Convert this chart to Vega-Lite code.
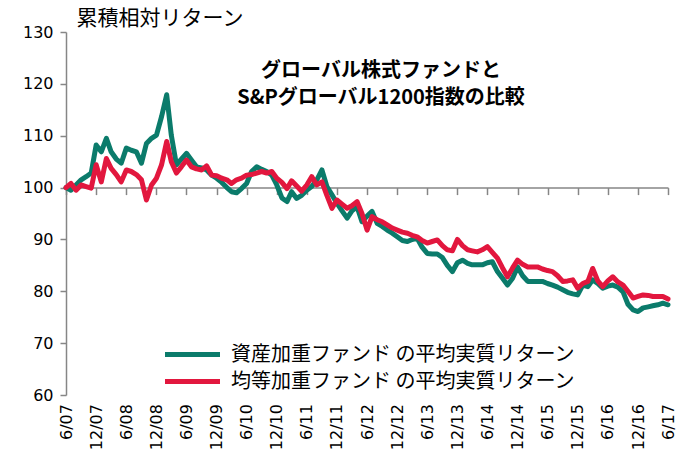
{
"$schema": "https://vega.github.io/schema/vega-lite/v6.json",
"width": 602, "height": 363,
"autosize": {"type": "none"},
"padding": {"left": 66, "top": 32, "right": 20, "bottom": 65},
"background": "white",
"config": {"view": {"stroke": null}, "font": "DejaVu Sans"},
"title": {"text": ["グローバル株式ファンドと", "S&Pグローバル1200指数の比較"], "font": "Noto Sans CJK JP", "fontSize": 20, "fontWeight": "bold", "color": "black", "anchor": "middle", "frame": "group", "dx": 14, "dy": 105, "lineHeight": 27},
"data": {"values": [
{"d":"2007-06-01","a":100.0,"b":100.0},
{"d":"2007-07-01","a":99.5,"b":100.8},
{"d":"2007-08-01","a":100.5,"b":99.5},
{"d":"2007-09-01","a":101.5,"b":100.5},
{"d":"2007-10-01","a":102.1,"b":100.2},
{"d":"2007-11-01","a":102.8,"b":99.9},
{"d":"2007-12-01","a":108.2,"b":104.4},
{"d":"2008-01-01","a":106.9,"b":101.1},
{"d":"2008-02-01","a":109.5,"b":105.6},
{"d":"2008-03-01","a":106.9,"b":103.7},
{"d":"2008-04-01","a":105.5,"b":102.5},
{"d":"2008-05-01","a":104.7,"b":101.1},
{"d":"2008-06-01","a":107.6,"b":103.4},
{"d":"2008-07-01","a":107.2,"b":103.1},
{"d":"2008-08-01","a":106.9,"b":102.5},
{"d":"2008-09-01","a":104.7,"b":101.5},
{"d":"2008-10-01","a":108.5,"b":97.6},
{"d":"2008-11-01","a":109.5,"b":100.5},
{"d":"2008-12-01","a":110.1,"b":101.8},
{"d":"2009-01-01","a":113.7,"b":104.4},
{"d":"2009-02-01","a":117.9,"b":108.9},
{"d":"2009-03-01","a":110.1,"b":105.0},
{"d":"2009-04-01","a":104.4,"b":102.8},
{"d":"2009-05-01","a":105.5,"b":104.0},
{"d":"2009-06-01","a":106.6,"b":105.3},
{"d":"2009-07-01","a":105.3,"b":104.0},
{"d":"2009-08-01","a":104.0,"b":103.6},
{"d":"2009-09-01","a":103.8,"b":103.4},
{"d":"2009-10-01","a":103.4,"b":104.2},
{"d":"2009-11-01","a":102.4,"b":102.4},
{"d":"2009-12-01","a":101.8,"b":102.3},
{"d":"2010-01-01","a":101.0,"b":101.8},
{"d":"2010-02-01","a":100.0,"b":101.5},
{"d":"2010-03-01","a":99.2,"b":100.8},
{"d":"2010-04-01","a":99.0,"b":101.5},
{"d":"2010-05-01","a":99.8,"b":101.8},
{"d":"2010-06-01","a":100.8,"b":102.4},
{"d":"2010-07-01","a":103.1,"b":102.5},
{"d":"2010-08-01","a":104.0,"b":102.8},
{"d":"2010-09-01","a":103.5,"b":103.1},
{"d":"2010-10-01","a":103.1,"b":102.8},
{"d":"2010-11-01","a":102.4,"b":103.1},
{"d":"2010-12-01","a":100.5,"b":101.8},
{"d":"2011-01-01","a":98.0,"b":101.0},
{"d":"2011-02-01","a":97.3,"b":99.8},
{"d":"2011-03-01","a":99.2,"b":101.3},
{"d":"2011-04-01","a":97.9,"b":100.3},
{"d":"2011-05-01","a":98.5,"b":99.3},
{"d":"2011-06-01","a":99.5,"b":100.5},
{"d":"2011-07-01","a":100.2,"b":102.1},
{"d":"2011-08-01","a":101.5,"b":100.5},
{"d":"2011-09-01","a":103.4,"b":101.1},
{"d":"2011-10-01","a":100.2,"b":98.5},
{"d":"2011-11-01","a":98.6,"b":96.0},
{"d":"2011-12-01","a":97.0,"b":97.6},
{"d":"2012-01-01","a":95.5,"b":96.8},
{"d":"2012-02-01","a":94.1,"b":96.0},
{"d":"2012-03-01","a":95.5,"b":96.5},
{"d":"2012-04-01","a":96.3,"b":97.3},
{"d":"2012-05-01","a":93.4,"b":95.0},
{"d":"2012-06-01","a":94.5,"b":91.8},
{"d":"2012-07-01","a":95.4,"b":94.4},
{"d":"2012-08-01","a":93.1,"b":93.8},
{"d":"2012-09-01","a":92.5,"b":93.4},
{"d":"2012-10-01","a":91.8,"b":92.8},
{"d":"2012-11-01","a":91.2,"b":92.2},
{"d":"2012-12-01","a":90.5,"b":91.8},
{"d":"2013-01-01","a":89.8,"b":91.4},
{"d":"2013-02-01","a":89.6,"b":91.2},
{"d":"2013-03-01","a":90.0,"b":90.8},
{"d":"2013-04-01","a":90.2,"b":90.5},
{"d":"2013-05-01","a":88.5,"b":89.8},
{"d":"2013-06-01","a":87.3,"b":89.3},
{"d":"2013-07-01","a":87.2,"b":89.6},
{"d":"2013-08-01","a":87.2,"b":89.9},
{"d":"2013-09-01","a":86.5,"b":88.8},
{"d":"2013-10-01","a":85.0,"b":88.0},
{"d":"2013-11-01","a":83.8,"b":87.8},
{"d":"2013-12-01","a":85.5,"b":90.0},
{"d":"2014-01-01","a":86.0,"b":88.8},
{"d":"2014-02-01","a":85.4,"b":88.0},
{"d":"2014-03-01","a":85.1,"b":87.8},
{"d":"2014-04-01","a":85.1,"b":87.6},
{"d":"2014-05-01","a":85.1,"b":88.0},
{"d":"2014-06-01","a":85.5,"b":88.6},
{"d":"2014-07-01","a":85.7,"b":87.5},
{"d":"2014-08-01","a":83.8,"b":86.4},
{"d":"2014-09-01","a":82.5,"b":84.5},
{"d":"2014-10-01","a":81.2,"b":82.8},
{"d":"2014-11-01","a":82.5,"b":84.5},
{"d":"2014-12-01","a":84.7,"b":86.0},
{"d":"2015-01-01","a":83.0,"b":85.2},
{"d":"2015-02-01","a":81.9,"b":84.7},
{"d":"2015-03-01","a":81.9,"b":84.7},
{"d":"2015-04-01","a":81.9,"b":84.7},
{"d":"2015-05-01","a":81.9,"b":84.3},
{"d":"2015-06-01","a":81.5,"b":84.0},
{"d":"2015-07-01","a":81.2,"b":83.8},
{"d":"2015-08-01","a":80.8,"b":83.0},
{"d":"2015-09-01","a":80.3,"b":81.9},
{"d":"2015-10-01","a":79.8,"b":82.0},
{"d":"2015-11-01","a":79.5,"b":82.2},
{"d":"2015-12-01","a":79.3,"b":80.6},
{"d":"2016-01-01","a":81.2,"b":81.5},
{"d":"2016-02-01","a":80.9,"b":81.9},
{"d":"2016-03-01","a":82.2,"b":84.4},
{"d":"2016-04-01","a":81.5,"b":82.0},
{"d":"2016-05-01","a":80.6,"b":80.9},
{"d":"2016-06-01","a":81.0,"b":82.0},
{"d":"2016-07-01","a":81.2,"b":82.8},
{"d":"2016-08-01","a":80.8,"b":81.8},
{"d":"2016-09-01","a":79.9,"b":81.2},
{"d":"2016-10-01","a":77.5,"b":80.0},
{"d":"2016-11-01","a":76.4,"b":78.7},
{"d":"2016-12-01","a":76.1,"b":79.0},
{"d":"2017-01-01","a":76.8,"b":79.3},
{"d":"2017-02-01","a":77.0,"b":79.2},
{"d":"2017-03-01","a":77.2,"b":79.0},
{"d":"2017-04-01","a":77.4,"b":79.0},
{"d":"2017-05-01","a":77.7,"b":79.0},
{"d":"2017-06-01","a":77.4,"b":78.5}
]},
"transform": [{"fold": ["a", "b"], "as": ["s", "v"]}],
"mark": {"type": "line", "strokeWidth": 5, "strokeJoin": "round", "strokeCap": "round"},
"encoding": {
  "x": {"field": "d", "type": "temporal", "scale": {"type": "utc", "nice": false},
    "axis": {"values": [
      {"year":2007,"month":6,"date":1,"utc":true},{"year":2007,"month":12,"date":1,"utc":true},
      {"year":2008,"month":6,"date":1,"utc":true},{"year":2008,"month":12,"date":1,"utc":true},
      {"year":2009,"month":6,"date":1,"utc":true},{"year":2009,"month":12,"date":1,"utc":true},
      {"year":2010,"month":6,"date":1,"utc":true},{"year":2010,"month":12,"date":1,"utc":true},
      {"year":2011,"month":6,"date":1,"utc":true},{"year":2011,"month":12,"date":1,"utc":true},
      {"year":2012,"month":6,"date":1,"utc":true},{"year":2012,"month":12,"date":1,"utc":true},
      {"year":2013,"month":6,"date":1,"utc":true},{"year":2013,"month":12,"date":1,"utc":true},
      {"year":2014,"month":6,"date":1,"utc":true},{"year":2014,"month":12,"date":1,"utc":true},
      {"year":2015,"month":6,"date":1,"utc":true},{"year":2015,"month":12,"date":1,"utc":true},
      {"year":2016,"month":6,"date":1,"utc":true},{"year":2016,"month":12,"date":1,"utc":true},
      {"year":2017,"month":6,"date":1,"utc":true}],
      "labelExpr": "utcFormat(datum.value, '%-m/%y')", "offset": -207.4,
      "domainColor": "#868686", "domainWidth": 1.5, "tickColor": "#868686", "tickSize": 7, "tickWidth": 1.5,
      "labelAngle": 270, "labelAlign": "right", "labelBaseline": "middle", "labelPadding": 209,
      "labelFont": "DejaVu Sans", "labelFontSize": 16, "labelColor": "black",
      "labelOverlap": false, "labelFlush": false, "title": null, "grid": false}},
  "y": {"field": "v", "type": "quantitative", "scale": {"domain": [60, 130], "nice": false, "zero": false},
    "axis": {"values": [60, 70, 80, 90, 100, 110, 120, 130], "title": "累積相対リターン",
      "titleAngle": 0, "titleAlign": "left", "titleBaseline": "middle", "titleX": 10, "titleY": -14,
      "titleFont": "Noto Sans CJK JP", "titleFontSize": 21, "titleFontWeight": "normal", "titleColor": "black",
      "domainColor": "#868686", "domainWidth": 1.5, "tickColor": "#868686", "tickSize": 6, "tickWidth": 1.5,
      "labelFont": "DejaVu Sans", "labelFontSize": 16, "labelColor": "black", "labelPadding": 7, "grid": false}},
  "color": {"field": "s", "type": "nominal", "scale": {"domain": ["a", "b"], "range": ["#0B7B6B", "#E2173E"]},
    "legend": {"orient": "none", "legendX": 114, "legendY": 310, "title": null, "symbolType": "M-2.75,0H2.75",
      "symbolSize": 400, "symbolStrokeWidth": 5, "labelFont": "Noto Sans CJK JP", "labelFontSize": 20,
      "labelColor": "black", "rowPadding": 4, "labelOffset": 26, "labelLimit": 0,
      "labelExpr": "datum.label == 'a' ? '資産加重ファンド の平均実質リターン' : '均等加重ファンド の平均実質リターン'"}}
}
}
